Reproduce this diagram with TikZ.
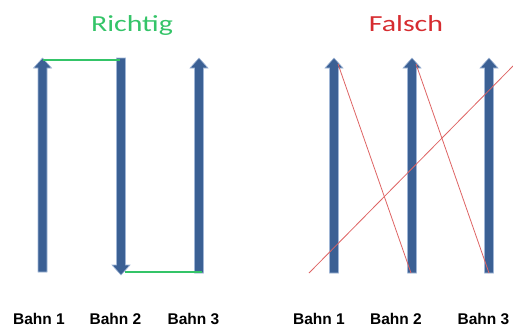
\documentclass[tikz,border=0pt]{standalone}
\usepackage{fontspec}
\setmainfont{Liberation Sans}
\newfontfamily\titlefont{Carlito}
\definecolor{arrowblue}{RGB}{59,96,148}
\definecolor{arrowedge}{RGB}{160,182,214}
\definecolor{okgreen}{RGB}{52,196,104}
\definecolor{badred}{RGB}{214,44,48}
\definecolor{badline}{RGB}{222,100,100}
\newcommand\blockarrow[3]{% x, tail y, tip y
  \pgfmathsetmacro\dirsign{(#3<#2)?-1:1}%
  \fill[arrowblue,draw=arrowedge,line width=0.6pt]
    (#1-4.5,#2) -- (#1-4.5,#3-10*\dirsign) -- (#1-9,#3-10*\dirsign) -- (#1,#3)
    -- (#1+9,#3-10*\dirsign) -- (#1+4.5,#3-10*\dirsign) -- (#1+4.5,#2) -- cycle;}
\newcommand\widetitle[1]{\scalebox{1.3}[1]{#1}}
\begin{document}
\begin{tikzpicture}[x=1pt,y=-1pt,
  title/.style={font=\titlefont\fontsize{23}{27}\selectfont,inner sep=0pt,anchor=base},
  lane/.style={font=\bfseries\fontsize{15.5}{18}\selectfont,inner sep=0pt,anchor=base},
  good/.style={okgreen,line width=1.2pt},
  bad/.style={badline,line width=0.8pt}]
\useasboundingbox (0,0) rectangle (513,327);
% titles
\node[title,text=okgreen] (t1) at (132,31) {\widetitle{Richtig}};
\node[title,text=badred] (t2) at (406,31) {\widetitle{Falsch}};
% left arrows
\blockarrow{42.5}{272}{58}
\blockarrow{121}{58}{275}
\blockarrow{199}{273}{58}
\coordinate (a1tip) at (43,60);
\coordinate (a2top) at (120,60);
\coordinate (a2tip) at (125,272);
\coordinate (a3bot) at (202,272);
\draw[good] (a1tip) -- (a2top);
\draw[good] (a2tip) -- (a3bot);
% right arrows
\blockarrow{334}{273}{58}
\blockarrow{412}{273}{58}
\blockarrow{489}{273}{58}
\coordinate (b1tip) at (338,64);
\coordinate (b2bot) at (411,273);
\coordinate (b2tip) at (416,64);
\coordinate (b3bot) at (489,273);
\coordinate (dstart) at (309,273);
\coordinate (dend) at (513,66);
\draw[bad] (b1tip) -- (b2bot);
\draw[bad] (b2tip) -- (b3bot);
\draw[bad] (dstart) -- (dend);
% labels
\node[lane] (l1) at (39,324) {Bahn 1};
\node[lane] (l2) at (115.5,324) {Bahn 2};
\node[lane] (l3) at (193.5,324) {Bahn 3};
\node[lane] (r1) at (319,324) {Bahn 1};
\node[lane] (r2) at (396,324) {Bahn 2};
\node[lane] (r3) at (483.5,324) {Bahn 3};
\end{tikzpicture}
\end{document}
